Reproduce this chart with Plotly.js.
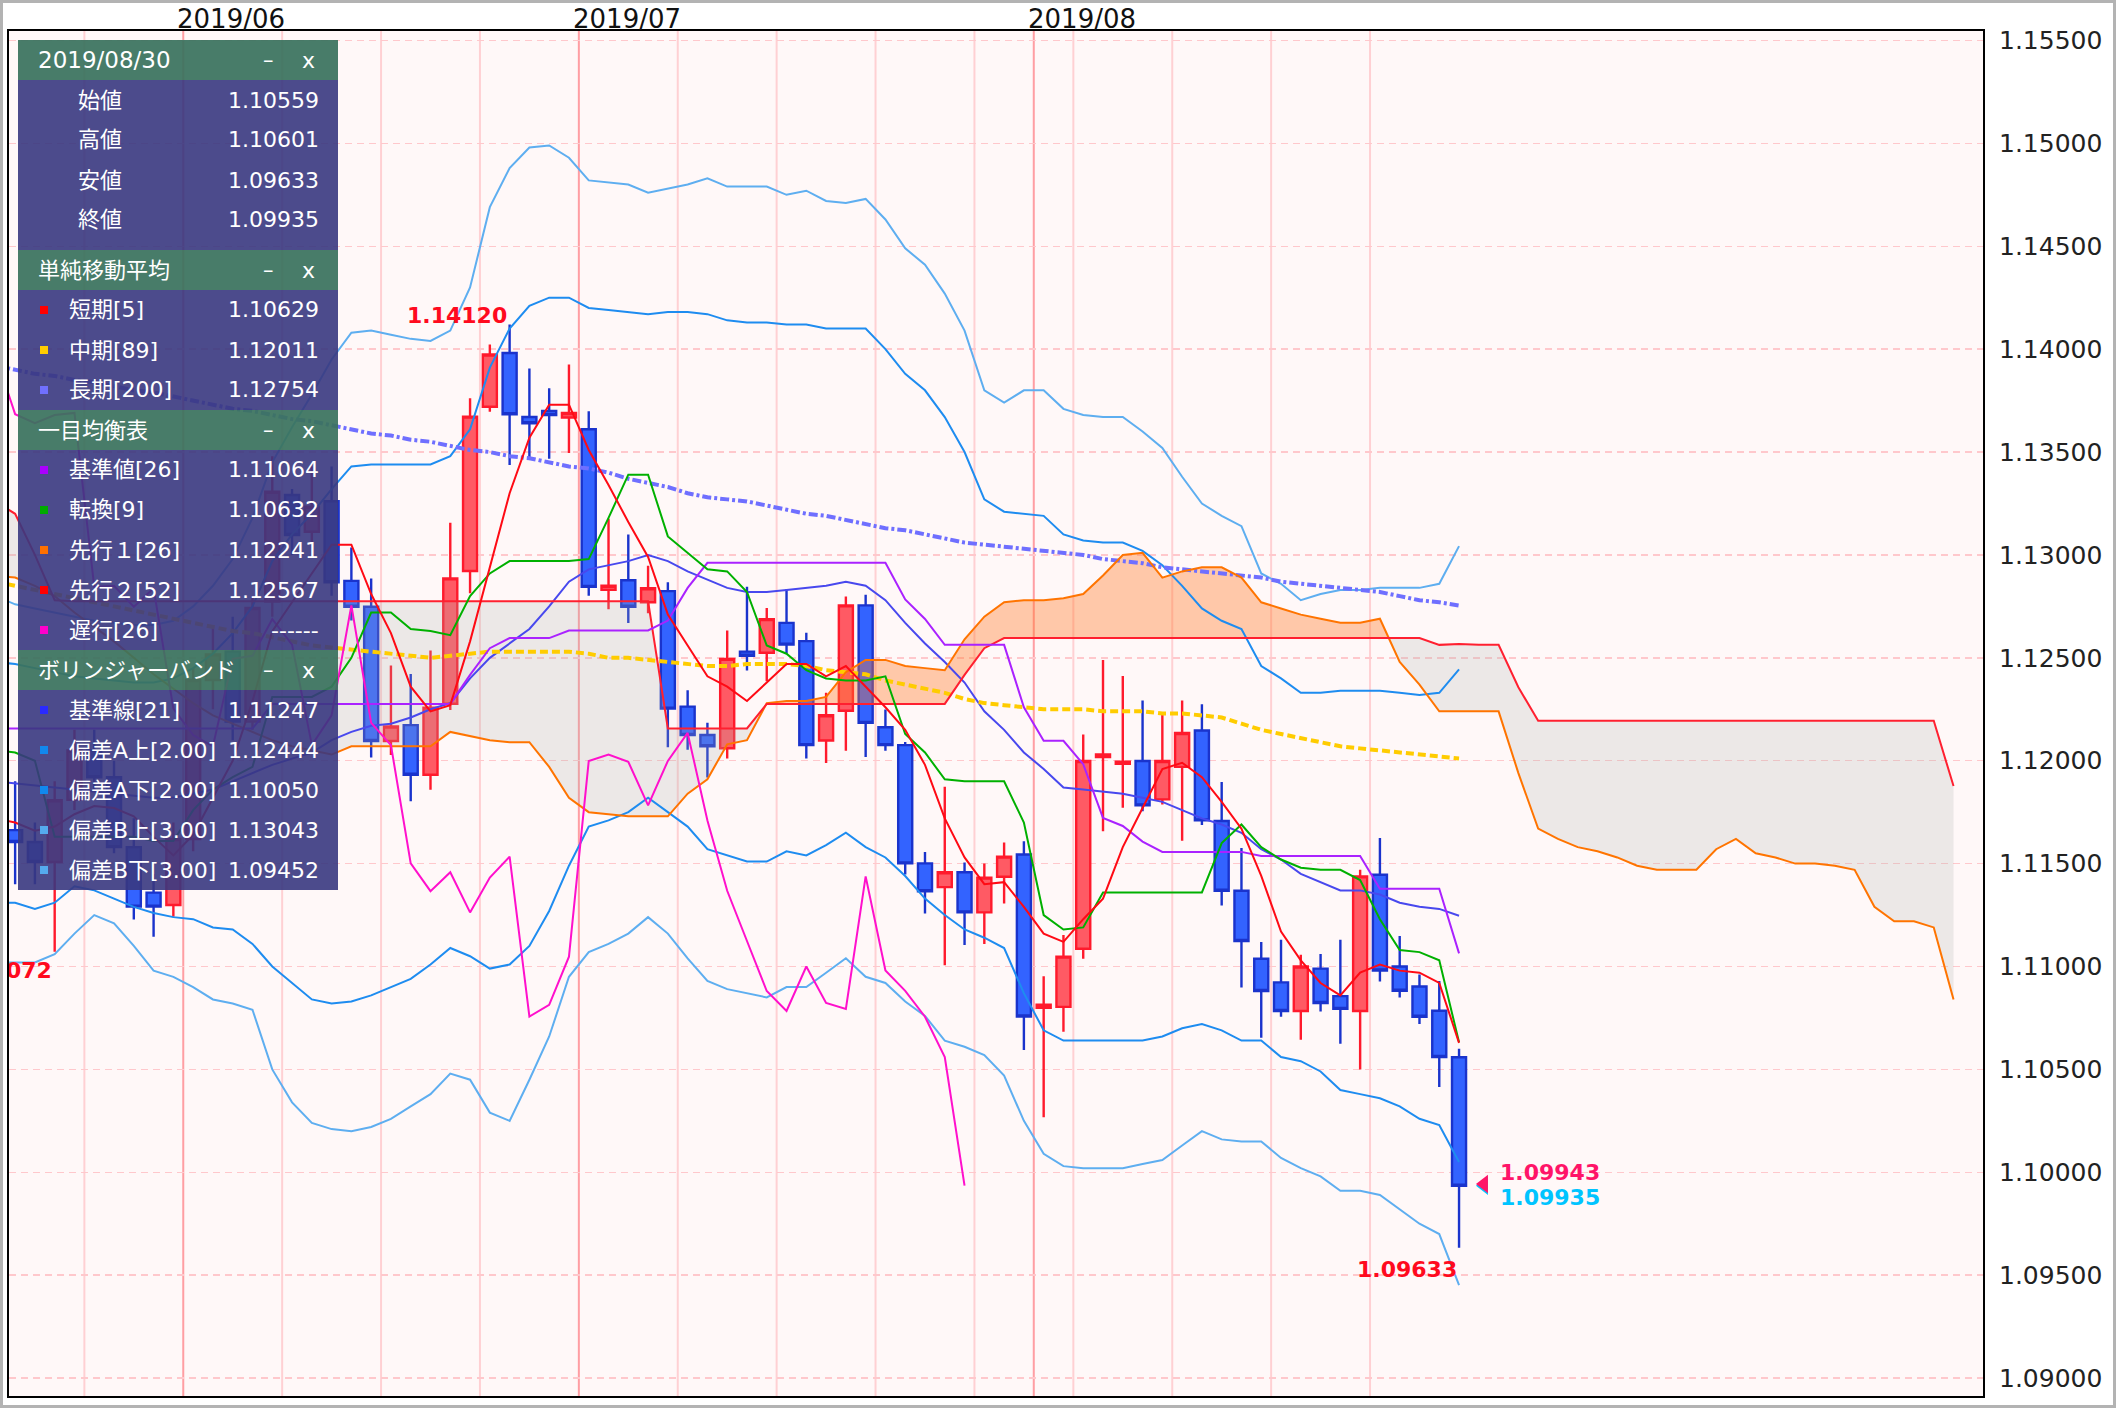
<!DOCTYPE html>
<html><head><meta charset="utf-8">
<script src="https://cdn.plot.ly/plotly-3.0.1.min.js"></script>
<style>
html,body{margin:0;padding:0;background:#fff;}
#wrap{width:2116px;height:1408px;box-sizing:border-box;border:3px solid #b3b3b3;overflow:hidden;background:#fff;}
#chart{width:2110px;height:1402px;}
</style></head><body><div id="wrap"><div id="chart"></div></div>
<script>
// ---- trading days ----
const dates = ["2019-05-20","2019-05-21","2019-05-22","2019-05-23","2019-05-24","2019-05-27","2019-05-28","2019-05-29","2019-05-30","2019-05-31",
"2019-06-03","2019-06-04","2019-06-05","2019-06-06","2019-06-07","2019-06-10","2019-06-11","2019-06-12","2019-06-13","2019-06-14",
"2019-06-17","2019-06-18","2019-06-19","2019-06-20","2019-06-21","2019-06-24","2019-06-25","2019-06-26","2019-06-27","2019-06-28",
"2019-07-01","2019-07-02","2019-07-03","2019-07-04","2019-07-05","2019-07-08","2019-07-09","2019-07-10","2019-07-11","2019-07-12",
"2019-07-15","2019-07-16","2019-07-17","2019-07-18","2019-07-19","2019-07-22","2019-07-23","2019-07-24","2019-07-25","2019-07-26",
"2019-07-29","2019-07-30","2019-07-31","2019-08-01","2019-08-02","2019-08-05","2019-08-06","2019-08-07","2019-08-08","2019-08-09",
"2019-08-12","2019-08-13","2019-08-14","2019-08-15","2019-08-16","2019-08-19","2019-08-20","2019-08-21","2019-08-22","2019-08-23",
"2019-08-26","2019-08-27","2019-08-28","2019-08-29","2019-08-30"];

const open = [1.11680,1.11663,1.11605,1.11508,1.11810,1.12050,1.11920,1.11580,1.11359,1.11299,
1.11620,1.12392,1.12530,1.12190,1.12773,1.13291,1.13113,1.13261,1.12874,1.12748,
1.12096,1.12173,1.11932,1.12277,1.12922,1.13720,1.13981,1.13670,1.13700,1.13668,
1.13611,1.12830,1.12877,1.12770,1.12824,1.12263,1.12125,1.12061,1.12530,1.12525,
1.12670,1.12581,1.12098,1.12243,1.12755,1.12163,1.12076,1.11501,1.11386,1.11458,
1.11263,1.11436,1.11544,1.10800,1.10804,1.11086,1.12018,1.11985,1.11999,1.11812,
1.11970,1.12147,1.11707,1.11368,1.11038,1.10923,1.10784,1.10990,1.10856,1.10784,
1.11446,1.11000,1.10903,1.10785,1.10559];
const high = [1.11760,1.11900,1.11700,1.11900,1.12150,1.12150,1.12000,1.11720,1.11450,1.11700,
1.12450,1.12650,1.12700,1.12800,1.13480,1.13320,1.13430,1.13430,1.13036,1.12886,
1.12463,1.12422,1.12536,1.13157,1.13761,1.14022,1.14120,1.13906,1.13810,1.13926,
1.13698,1.13176,1.13099,1.12947,1.12867,1.12343,1.12185,1.12633,1.12846,1.12742,
1.12833,1.12622,1.12330,1.12798,1.12807,1.12249,1.12091,1.11556,1.11874,1.11505,
1.11501,1.11603,1.11609,1.10953,1.11153,1.12127,1.12489,1.12412,1.12293,1.12229,
1.12293,1.12274,1.11897,1.11576,1.11119,1.11130,1.11057,1.11061,1.11130,1.11470,
1.11624,1.11148,1.10961,1.10930,1.10601];
const low = [1.11600,1.11400,1.11400,1.11072,1.11760,1.11850,1.11550,1.11229,1.11145,1.11242,
1.11560,1.12250,1.12100,1.12150,1.12700,1.13000,1.13000,1.12802,1.12681,1.12016,
1.12028,1.11803,1.11859,1.12246,1.12814,1.13696,1.13437,1.13467,1.13467,1.13495,
1.12802,1.12736,1.12669,1.12717,1.12065,1.12053,1.11919,1.12011,1.12438,1.12386,
1.12520,1.12011,1.11989,1.12048,1.12018,1.12048,1.11447,1.11258,1.11006,1.11104,
1.11110,1.11306,1.10594,1.10267,1.10683,1.11038,1.11657,1.11772,1.11755,1.11787,
1.11611,1.11688,1.11297,1.10898,1.10654,1.10756,1.10644,1.10782,1.10625,1.10500,
1.10927,1.10850,1.10721,1.10414,1.09633];
const close = [1.11663,1.11605,1.11508,1.11808,1.12050,1.11920,1.11580,1.11291,1.11291,1.11620,
1.12392,1.12517,1.12190,1.12742,1.13307,1.13097,1.13234,1.12867,1.12748,1.12096,
1.12166,1.11932,1.12258,1.12886,1.13672,1.13974,1.13684,1.13640,1.13680,1.13690,
1.12845,1.12850,1.12748,1.12838,1.12253,1.12125,1.12070,1.12495,1.12510,1.12688,
1.12564,1.12076,1.12221,1.12755,1.12184,1.12076,1.11501,1.11366,1.11458,1.11263,
1.11432,1.11534,1.10757,1.10814,1.11048,1.11999,1.12030,1.11995,1.11783,1.11999,
1.12135,1.11710,1.11368,1.11124,1.10881,1.10784,1.11000,1.10823,1.10794,1.11438,
1.10981,1.10882,1.10756,1.10560,1.09935];

// ---- moving averages ----
const sma5 = [1.1172,1.1170,1.1166,1.1168,1.1174,1.1178,1.1177,1.1173,1.1163,1.1154,
1.1164,1.1182,1.1200,1.1229,1.1263,1.1277,1.1291,1.1305,1.1305,1.1281,
1.1262,1.1236,1.1224,1.1227,1.1258,1.1294,1.1330,1.1357,1.1373,1.1373,
1.1351,1.1334,1.1316,1.1299,1.1271,1.1256,1.1241,1.1236,1.1229,1.1238,
1.1247,1.1247,1.1241,1.1246,1.1236,1.1226,1.1215,1.1198,1.1172,1.1153,
1.1140,1.1141,1.1129,1.1116,1.1112,1.1123,1.1133,1.1158,1.1177,1.1196,
1.1199,1.1192,1.1180,1.1167,1.1144,1.1117,1.1103,1.1092,1.1086,1.1097,
1.1101,1.1098,1.1097,1.1092,1.10629];
const sma89 = [1.1287,1.1285,1.1283,1.1281,1.1279,1.1277,1.1275,1.1273,1.1271,1.1269,
1.1267,1.1265,1.1263,1.1262,1.1260,1.1258,1.1256,1.1255,1.1254,1.1253,
1.1252,1.1251,1.1250,1.1251,1.1252,1.1253,1.1253,1.1253,1.1253,1.1253,
1.1252,1.1250,1.1250,1.1249,1.1248,1.1247,1.1246,1.1246,1.1247,1.1247,
1.1247,1.1246,1.1244,1.1243,1.1242,1.1239,1.1237,1.1235,1.1233,1.1230,
1.1228,1.1227,1.1226,1.1225,1.1225,1.1225,1.1224,1.1224,1.1224,1.1223,
1.1223,1.1222,1.1221,1.1218,1.1215,1.1213,1.1211,1.1209,1.1207,1.1206,
1.1205,1.1204,1.1203,1.1202,1.12011];
const sma200 = [1.1392,1.1390,1.1388,1.1387,1.1385,1.1384,1.1382,1.1380,1.1379,1.1377,
1.1375,1.1373,1.1371,1.1370,1.1368,1.1366,1.1365,1.1363,1.1361,1.1359,
1.1358,1.1356,1.1355,1.1353,1.1351,1.1350,1.1348,1.1347,1.1345,1.1343,
1.1342,1.1340,1.1337,1.1335,1.1333,1.1330,1.1328,1.1327,1.1326,1.1324,
1.1322,1.1320,1.1319,1.1317,1.1315,1.1313,1.1312,1.1310,1.1308,1.1306,
1.1305,1.1304,1.1303,1.1302,1.1301,1.1300,1.1298,1.1297,1.1296,1.1294,
1.1293,1.1292,1.1291,1.1290,1.1289,1.1287,1.1286,1.1285,1.1284,1.1283,
1.1282,1.1280,1.1278,1.1277,1.12754];

// ---- ichimoku ----
const tenkan = [1.1205,1.1204,1.1200,1.1163,1.1163,1.1163,1.1163,1.1163,1.1161,1.1161,
1.1176,1.1186,1.1192,1.1197,1.1231,1.1231,1.1231,1.1236,1.1250,1.1272,
1.1272,1.1264,1.1263,1.1261,1.1280,1.1291,1.1297,1.1297,1.1297,1.1297,
1.1298,1.1318,1.1339,1.1339,1.1309,1.1301,1.1293,1.1292,1.1282,1.1256,
1.1252,1.1244,1.1240,1.1239,1.1239,1.1241,1.1213,1.1204,1.1191,1.1190,
1.1190,1.1190,1.1170,1.1125,1.1118,1.1119,1.1136,1.1136,1.1136,1.1136,
1.1136,1.1136,1.1160,1.1169,1.1158,1.1152,1.1148,1.1147,1.1147,1.1142,
1.1123,1.1108,1.1107,1.1103,1.10632];
const kijun = [1.12157,1.12157,1.12157,1.12157,1.12157,1.12157,1.12157,1.12157,1.12157,1.12157,
1.12157,1.12157,1.12157,1.12157,1.12276,1.12276,1.12276,1.12276,1.12276,1.12276,
1.12276,1.12276,1.12276,1.12276,1.12417,1.12547,1.12596,1.12596,1.12596,1.12633,
1.12633,1.12633,1.12633,1.12633,1.12681,1.12840,1.12962,1.12962,1.12962,1.12962,
1.12962,1.12962,1.12962,1.12962,1.12962,1.12962,1.12784,1.12689,1.12563,1.12563,
1.12563,1.12563,1.12260,1.12097,1.12097,1.11983,1.11722,1.11683,1.11607,1.11557,
1.11557,1.11557,1.11557,1.11557,1.11537,1.11537,1.11537,1.11537,1.11537,1.11537,
1.11378,1.11378,1.11378,1.11378,1.11064];
// leading spans, by displayed position (0..99)
const senkouA = [1.1290,1.1289,1.1285,1.1280,1.1272,1.1265,1.1258,1.1250,1.1242,1.1235,
1.1228,1.1222,1.1218,1.1214,1.1210,1.1207,1.1205,1.1203,1.1207,1.1207,
1.1207,1.1207,1.1207,1.1214,1.1212,1.1210,1.1209,1.1209,1.1197,1.1182,
1.1175,1.1174,1.1173,1.1173,1.1173,1.1184,1.1191,1.1208,1.1210,1.1228,
1.1229,1.1229,1.1231,1.1243,1.1249,1.1249,1.1246,1.1245,1.1244,1.1259,
1.1270,1.1277,1.1278,1.1278,1.1279,1.1281,1.1290,1.1300,1.1301,1.1289,
1.1292,1.1294,1.1294,1.1289,1.1277,1.1274,1.1271,1.1269,1.1267,1.1267,
1.1269,1.1248,1.1237,1.1224,1.12241,1.1224,1.1224,1.1194,1.1167,1.1162,
1.1158,1.1156,1.1153,1.1149,1.1147,1.1147,1.1147,1.1157,1.1162,1.1155,
1.1153,1.1150,1.1150,1.1149,1.1147,1.1129,1.1122,1.1122,1.1119,1.1084];
const senkouB = [1.1326,1.1320,1.1300,1.1278,1.12775,1.12775,1.12775,1.12775,1.12775,1.12775,
1.12775,1.12775,1.12775,1.12775,1.12775,1.12775,1.12775,1.12775,1.12775,1.12775,
1.12775,1.12775,1.12775,1.12775,1.12775,1.12775,1.12775,1.12775,1.12775,1.12775,
1.12775,1.12775,1.12775,1.12775,1.12157,1.12157,1.12157,1.12157,1.12157,1.12276,
1.12276,1.12276,1.12276,1.12276,1.12276,1.12276,1.12276,1.12276,1.12276,1.12417,
1.12547,1.12596,1.12596,1.12596,1.12596,1.12596,1.12596,1.12596,1.12596,1.12596,
1.12596,1.12596,1.12596,1.12596,1.12596,1.12596,1.12596,1.12596,1.12596,1.12596,
1.12596,1.12596,1.12596,1.12563,1.12567,1.12563,1.12563,1.12357,1.12194,1.12194,
1.12194,1.12194,1.12194,1.12194,1.12194,1.12194,1.12194,1.12194,1.12194,1.12194,
1.12194,1.12194,1.12194,1.12194,1.12194,1.12194,1.12194,1.12194,1.12194,1.11877];

// ---- bollinger (21) ----
const bbMid = [1.1190,1.1189,1.1188,1.1187,1.1186,1.1185,1.1184,1.1183,1.1182,1.1182,
1.1184,1.1186,1.1190,1.1194,1.1198,1.1201,1.1204,1.1210,1.1214,1.1217,
1.1218,1.1221,1.1225,1.1228,1.1240,1.1250,1.1257,1.1264,1.1275,1.1287,
1.1293,1.1295,1.1297,1.1300,1.1297,1.1292,1.1288,1.1284,1.1282,1.1282,
1.1283,1.1284,1.1285,1.1287,1.1285,1.1278,1.1267,1.1257,1.1248,1.1238,
1.1224,1.1215,1.1204,1.1196,1.1187,1.1186,1.1185,1.1184,1.1182,1.1180,
1.1176,1.1172,1.1169,1.1165,1.1157,1.1152,1.1145,1.1141,1.1137,1.1137,
1.1135,1.1131,1.1129,1.1128,1.11247];
const bbUp2 = [1.1248,1.1247,1.1245,1.1243,1.1241,1.1240,1.1239,1.1238,1.1238,1.1240,
1.1245,1.1252,1.1262,1.1275,1.1297,1.1310,1.1320,1.1332,1.1343,1.1344,
1.1344,1.1344,1.1344,1.1348,1.1361,1.1391,1.1410,1.1421,1.1425,1.1425,
1.1420,1.1419,1.1418,1.1417,1.1418,1.1418,1.1417,1.1414,1.1413,1.1413,
1.1412,1.1412,1.1410,1.1410,1.1410,1.1400,1.1388,1.1380,1.1367,1.1350,
1.1327,1.1321,1.1320,1.1319,1.1310,1.1307,1.1306,1.1306,1.1302,1.1295,
1.1285,1.1274,1.1268,1.1264,1.1246,1.1240,1.1233,1.1233,1.1234,1.1234,
1.1234,1.1233,1.1232,1.1233,1.12444];
const bbLo2 = [1.1131,1.1131,1.1128,1.1131,1.1139,1.1137,1.1133,1.1129,1.1126,1.1124,
1.1123,1.1119,1.1118,1.1111,1.1100,1.1092,1.1084,1.1082,1.1083,1.1086,
1.1090,1.1094,1.1101,1.1109,1.1105,1.1099,1.1101,1.1110,1.1127,1.1149,
1.1168,1.1171,1.1175,1.1182,1.1175,1.1168,1.1157,1.1154,1.1151,1.1151,
1.1156,1.1154,1.1159,1.1165,1.1158,1.1153,1.1144,1.1133,1.1125,1.1118,
1.1114,1.1109,1.1087,1.1069,1.1064,1.1064,1.1064,1.1064,1.1064,1.1066,
1.1070,1.1072,1.1069,1.1064,1.1064,1.1056,1.1054,1.1049,1.1040,1.1038,
1.1036,1.1032,1.1026,1.1023,1.10050];
const bbUp3 = [1.1280,1.1276,1.1274,1.1272,1.1270,1.1268,1.1267,1.1266,1.1266,1.1268,
1.1275,1.1285,1.1298,1.1318,1.1345,1.1362,1.1378,1.1395,1.1408,1.1409,
1.1407,1.1405,1.1404,1.1409,1.1430,1.1469,1.1488,1.1498,1.1499,1.1493,
1.1482,1.1481,1.1480,1.1476,1.1478,1.1480,1.1483,1.1479,1.1479,1.1479,
1.1475,1.1477,1.1472,1.1471,1.1473,1.1463,1.1449,1.1441,1.1427,1.1409,
1.1380,1.1374,1.1380,1.1380,1.1371,1.1368,1.1367,1.1367,1.1360,1.1352,
1.1338,1.1325,1.1319,1.1314,1.1291,1.1286,1.1278,1.1281,1.1283,1.1283,
1.1284,1.1284,1.1284,1.1286,1.13043];
const bbLo3 = [1.1102,1.1102,1.1102,1.1106,1.1116,1.1125,1.1121,1.1110,1.1098,1.1095,
1.1090,1.1084,1.1082,1.1079,1.1050,1.1034,1.1024,1.1021,1.1020,1.1022,
1.1026,1.1032,1.1038,1.1048,1.1045,1.1029,1.1025,1.1045,1.1066,1.1095,
1.1107,1.1111,1.1116,1.1124,1.1116,1.1104,1.1093,1.1089,1.1087,1.1085,
1.1090,1.1090,1.1097,1.1104,1.1095,1.1092,1.1083,1.1076,1.1064,1.1061,
1.1057,1.1047,1.1025,1.1009,1.1003,1.1002,1.1002,1.1002,1.1004,1.1006,
1.1013,1.1020,1.1016,1.1015,1.1015,1.1007,1.1002,1.0998,1.0991,1.0991,
1.0989,1.0982,1.0975,1.0970,1.09452];

const askPrice = 1.09943;          // current ask marker
const lagShift = 25;               // 遅行 displayed 25 bars back
const yTicks = [1.090,1.095,1.100,1.105,1.110,1.115,1.120,1.125,1.130,1.135,1.140,1.145,1.150,1.155];

// ================= build =================
const N = dates.length, last = N - 1;
const xs = dates.map((d, i) => i);
const xsLead = senkouA.map((v, i) => i);
const xsLag = close.map((v, i) => i - lagShift);

// month / week separators
const monthX = [], monthText = [], weekX = [];
for (let i = 1; i < N; i++) {
  const d = new Date(dates[i] + "T00:00:00Z"), p = new Date(dates[i-1] + "T00:00:00Z");
  if (d.getUTCMonth() !== p.getUTCMonth()) { monthX.push(i - 0.5); monthText.push(dates[i].slice(0,4) + "/" + dates[i].slice(5,7)); }
  else if (d.getUTCDay() === 1) weekX.push(i - 0.5);
}

// cloud polygons with crossing points
const cX = [], cA = [], cB = [];
for (let i = 0; i < xsLead.length; i++) {
  if (i > 0) {
    const d0 = senkouA[i-1] - senkouB[i-1], d1 = senkouA[i] - senkouB[i];
    if (d0 * d1 < 0) {
      const t = d0 / (d0 - d1);
      const v = senkouA[i-1] + t * (senkouA[i] - senkouA[i-1]);
      cX.push(xsLead[i-1] + t); cA.push(v); cB.push(v);
    }
  }
  cX.push(xsLead[i]); cA.push(senkouA[i]); cB.push(senkouB[i]);
}
const cHi = cA.map((v, i) => Math.max(v, cB[i]));

const ln = (x, y, color, width, dash) => ({type:'scatter', mode:'lines', x, y, hoverinfo:'skip', showlegend:false,
  line:{color, width, dash: dash || 'solid'}});

let hiIdx = 1; for (let i = 1; i < N; i++) if (high[i] > high[hiIdx]) hiIdx = i;
let loIdx = 1; for (let i = 1; i < N; i++) if (low[i] < low[loIdx]) loIdx = i;
const f5 = v => v.toFixed(5);

const traces = [
  {type:'candlestick', x:xs, open, high, low, close, whiskerwidth:0, hoverinfo:'skip', showlegend:false,
   increasing:{line:{color:'#ff1a2c', width:2.4}, fillcolor:'#ff5a64'},
   decreasing:{line:{color:'#1a33cc', width:2.4}, fillcolor:'#3363ff'}},
  // cloud: orange where A above B, grey where B above A
  {type:'scatter', mode:'lines', x:cX, y:cB, line:{width:0}, hoverinfo:'skip', showlegend:false},
  {type:'scatter', mode:'lines', x:cX, y:cHi, fill:'tonexty', fillcolor:'rgba(255,120,40,0.38)', line:{width:0}, hoverinfo:'skip', showlegend:false},
  {type:'scatter', mode:'lines', x:cX, y:cA, line:{width:0}, hoverinfo:'skip', showlegend:false},
  {type:'scatter', mode:'lines', x:cX, y:cHi, fill:'tonexty', fillcolor:'rgba(168,176,172,0.22)', line:{width:0}, hoverinfo:'skip', showlegend:false},
  ln(xs, bbUp3, '#5eaef0', 2), ln(xs, bbLo3, '#5eaef0', 2),
  ln(xs, bbUp2, '#1e8cf0', 2), ln(xs, bbLo2, '#1e8cf0', 2),
  ln(xs, bbMid, '#4848ee', 2),
  ln(xs, sma200, '#6f6fff', 4, '9px,3px,3px,3px'),
  ln(xs, sma89, '#ffcc00', 4, '8px,4px'),
  ln(xsLead, senkouA, '#ff7400', 2),
  ln(xsLead, senkouB, '#ff2030', 2),
  ln(xs, kijun, '#aa22ff', 2),
  ln(xs, tenkan, '#00b000', 2),
  ln(xsLag, close, '#ff10cc', 2),
  ln(xs, sma5, '#ff0a14', 2),
  {type:'scatter', mode:'markers', x:[last + 1.26], y:[close[last]], marker:{symbol:'triangle-left', size:16, color:'#00c4ff'}, hoverinfo:'skip', showlegend:false},
  {type:'scatter', mode:'markers', x:[last + 1.26], y:[askPrice], marker:{symbol:'triangle-left', size:16, color:'#ff1468'}, hoverinfo:'skip', showlegend:false},
  // low label of an early bar: runs past the left frame, so it is drawn as text clipped by the plot area
  {type:'scatter', mode:'markers+text', x:[3.35], y:[low[3]], text:[f5(low[3])], textposition:'bottom left', cliponaxis:true,
   marker:{size:14, opacity:0}, textfont:{family:'DejaVu Sans, sans-serif', size:22, color:'#ff0a1e', weight:'bold'}, hoverinfo:'skip', showlegend:false}
];

// ---- pixel helpers for overlay panel (plot area: x 9..1983, y 31..1396 in page px) ----
const PL = 9, PW = 1974, PT = 31, PH = 1365;
const px = v => (v - PL) / PW, py = v => 1 - (v - PT) / PH;

const shapes = [];
weekX.forEach(x => shapes.push({type:'line', xref:'x', yref:'paper', x0:x, x1:x, y0:0, y1:1, layer:'below', line:{color:'#ffd0d3', width:2}}));
monthX.forEach(x => shapes.push({type:'line', xref:'x', yref:'paper', x0:x, x1:x, y0:0, y1:1, layer:'below', line:{color:'#ff9ea3', width:2}}));

const annotations = [];
// month labels, left-aligned on the month separators, above the frame
monthX.forEach((x, i) => annotations.push({xref:'x', yref:'paper', x, y:1, text:monthText[i], showarrow:false,
  xanchor:'left', yanchor:'bottom', xshift:-8, yshift:-5, font:{family:'DejaVu Sans, sans-serif', size:26, color:'#111'}}));

const FONT = 'DejaVu Sans, Noto Sans CJK JP, sans-serif';
const txt = (x, y, text, anchor, size, color) => annotations.push({xref:'paper', yref:'paper', x:px(x), y:py(y), text, showarrow:false,
  xanchor:anchor, yanchor:'middle', font:{family:FONT, size:size||22, color:color||'#ffffff'}});

const panel = [
  {title: dates[last].replace(/-/g, '/'), tsize:23, center:true, rows:[
    ['始値', f5(open[last])], ['高値', f5(high[last])], ['安値', f5(low[last])], ['終値', f5(close[last])]]},
  {title:'単純移動平均', rows:[
    ['短期[5]', f5(sma5[last]), '#ff0000'], ['中期[89]', f5(sma89[last]), '#ffcc00'], ['長期[200]', f5(sma200[last]), '#7070ff']]},
  {title:'一目均衡表', rows:[
    ['基準値[26]', f5(kijun[last]), '#aa00ff'], ['転換[9]', f5(tenkan[last]), '#00aa00'],
    ['先行１[26]', f5(senkouA[last]), '#ff7000'], ['先行２[52]', f5(senkouB[last]), '#ff0000'], ['遅行[26]', '------', '#ff00cc']]},
  {title:'ボリンジャーバンド', rows:[
    ['基準線[21]', f5(bbMid[last]), '#2a2aff'], ['偏差A上[2.00]', f5(bbUp2[last]), '#1188ee'],
    ['偏差A下[2.00]', f5(bbLo2[last]), '#1188ee'], ['偏差B上[3.00]', f5(bbUp3[last]), '#55aaee'], ['偏差B下[3.00]', f5(bbLo3[last]), '#55aaee']]}
];
let yy = 40; const X0 = 18, X1 = 338;
panel.forEach(sec => {
  shapes.push({type:'rect', xref:'paper', yref:'paper', x0:px(X0), x1:px(X1), y0:py(yy), y1:py(yy+40), layer:'above', line:{width:0}, fillcolor:'rgba(58,114,94,0.93)'});
  txt(36, yy+20, sec.title, 'left', sec.tsize || 22);
  txt(268, yy+20, '–', 'center', 21);
  txt(308, yy+20, 'x', 'center', 22);
  yy += 40;
  const h = sec.rows.length * 40 + (sec.center ? 10 : 0);
  shapes.push({type:'rect', xref:'paper', yref:'paper', x0:px(X0), x1:px(X1), y0:py(yy), y1:py(yy+h), layer:'above', line:{width:0}, fillcolor:'rgba(57,55,127,0.9)'});
  sec.rows.forEach((r, i) => {
    const cy = yy + 20 + i * 40;
    if (sec.center) txt(100, cy, r[0], 'center');
    else {
      txt(67, cy, r[0], 'left');
      shapes.push({type:'rect', xref:'paper', yref:'paper', x0:px(40), x1:px(48), y0:py(cy-4), y1:py(cy+4), layer:'above', line:{width:0}, fillcolor:r[2]});
    }
    txt(321, cy, r[1], 'right');
  });
  yy += h;
});

// ---- price labels ----
const bold = (c) => ({family:'DejaVu Sans, sans-serif', size:22, color:c, weight:'bold'});
annotations.push({xref:'x', yref:'y', x:hiIdx, y:high[hiIdx], text:'<b>' + f5(high[hiIdx]) + '</b>', showarrow:false, xanchor:'right', yanchor:'bottom', xshift:-1, yshift:-6, font:bold('#ff0a1e')});
annotations.push({xref:'x', yref:'y', x:loIdx, y:low[loIdx], text:'<b>' + f5(low[loIdx]) + '</b>', showarrow:false, xanchor:'right', yanchor:'top', yshift:-7, font:bold('#ff0a1e')});
annotations.push({xref:'x', yref:'y', x:last + 1.97, y:askPrice, text:'<b>' + f5(askPrice) + '</b>', showarrow:false, xanchor:'left', yanchor:'bottom', yshift:-3, font:bold('#ff1468')});
annotations.push({xref:'x', yref:'y', x:last + 1.97, y:close[last], text:'<b>' + f5(close[last]) + '</b>', showarrow:false, xanchor:'left', yanchor:'top', yshift:3, font:bold('#00c4ff')});

const layout = {
  width:2110, height:1402, margin:{l:6, r:130, t:28, b:9},
  paper_bgcolor:'#ffffff', plot_bgcolor:'#fff8f8', showlegend:false, hovermode:false,
  boxgap:0.29, boxgroupgap:0, boxmode:'overlay',
  xaxis:{range:[0.69, 100.49], side:'top', showgrid:false, zeroline:false, fixedrange:true, showticklabels:false, ticks:'',
    showline:true, mirror:true, linecolor:'#000', linewidth:2, rangeslider:{visible:false}},
  yaxis:{side:'right', range:[1.08913, 1.15546], tickmode:'array', tickvals:yTicks, tickformat:'.5f', fixedrange:true,
    showgrid:true, gridcolor:'#ffc8cc', gridwidth:1.5, griddash:'7px,5px', zeroline:false, ticks:'',
    ticklabelstandoff:9, tickfont:{family:'DejaVu Sans, sans-serif', size:25, color:'#222'},
    showline:true, mirror:true, linecolor:'#000', linewidth:2},
  shapes, annotations
};
Plotly.newPlot('chart', traces, layout, {staticPlot:true, displayModeBar:false});
</script></body></html>
